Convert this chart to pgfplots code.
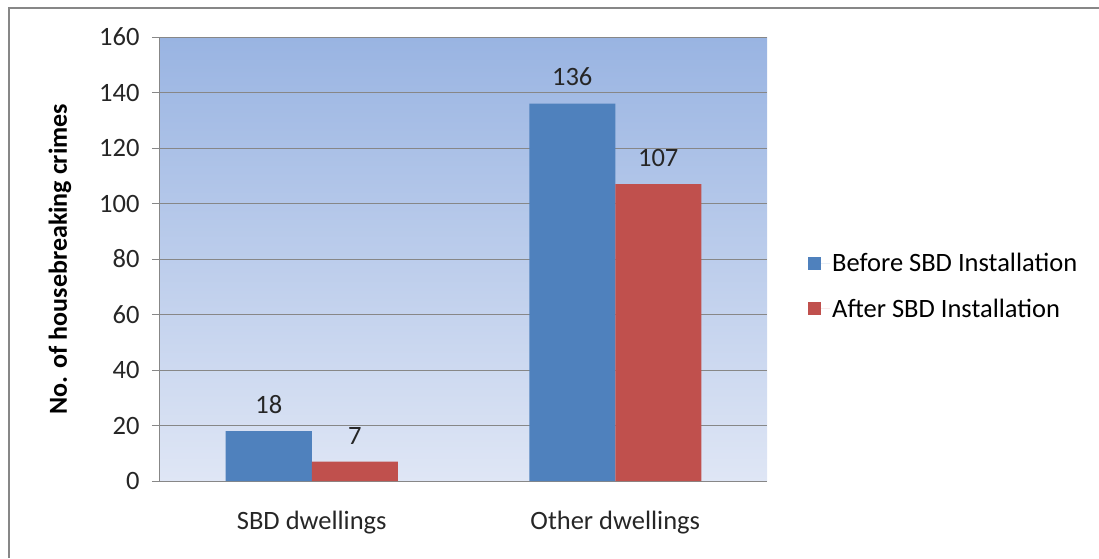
\documentclass[border=0pt]{standalone}
\usepackage{fontspec}
\setmainfont{Carlito}
\usepackage{pgfplots}
\pgfplotsset{compat=1.18}
\definecolor{barblue}{HTML}{4F81BD}
\definecolor{barred}{HTML}{C0504D}
\definecolor{gridgray}{HTML}{878787}
\definecolor{bgtop}{HTML}{99B4E2}
\definecolor{bgbot}{HTML}{DFE6F5}
\begin{document}
\begin{tikzpicture}
\path[use as bounding box] (-160pt,-77pt) rectangle (939pt,481pt);
\draw[line width=2pt, color=gridgray] (-151pt,-77pt) -- (-151pt,473pt) -- (939pt,473pt);
\begin{axis}[
  at={(0pt,0pt)}, anchor=south west,
  scale only axis, width=607pt, height=444pt,
  xmin=-0.5, xmax=1.5, ymin=0, ymax=160,
  ybar=0pt, bar width=86pt,
  axis x line=bottom, axis y line=left,
  axis line style={gridgray, line width=1pt, -},
  x axis line style={-}, y axis line style={-},
  ytick={0,20,...,160},
  xtick={0,1}, xticklabels={SBD dwellings, Other dwellings},
  extra x ticks={-0.5,0.5,1.5}, extra x tick labels={},
  extra x tick style={major tick length=7pt, tick style={gridgray, line width=1pt}, grid=none},
  major x tick style={draw=none},
  ymajorgrids, grid style={gridgray, line width=1pt},
  major tick length=8pt, tick align=outside,
  y tick style={gridgray, line width=1pt},
  /pgf/number format/assume math mode=true,
  ticklabel style={font=\fontsize{26.5}{30}\selectfont, color=black!85},
  yticklabel style={xshift=-9pt},
  xticklabel style={yshift=-19pt},
  ylabel={No. of housebreaking crimes},
  ylabel style={font=\fontsize{26}{30}\selectfont\bfseries, at={(rel axis cs:0,0.5)}, anchor=center, yshift=100pt},
  axis background/.style={top color=bgtop, bottom color=bgbot},
  nodes near coords,
  nodes near coords style={font=\fontsize{26.5}{30}\selectfont, color=black!85, yshift=14pt},
  legend cell align=left,
  legend style={at={(645pt,195pt)}, anchor=west, draw=none, fill=none,
    font=\fontsize{26.5}{30}\selectfont, row sep=22pt},
  legend image code/.code={\fill[#1] (0pt,-6.5pt) rectangle (13pt,6.5pt); \path (0pt,0pt) -- (22pt,0pt);},
  clip=false,
]
\addplot[fill=barblue, draw=none] coordinates {(0,18) (1,136)};
\addplot[fill=barred, draw=none] coordinates {(0,7) (1,107)};
\legend{Before SBD Installation, After SBD Installation}
\end{axis}
\end{tikzpicture}
\end{document}
